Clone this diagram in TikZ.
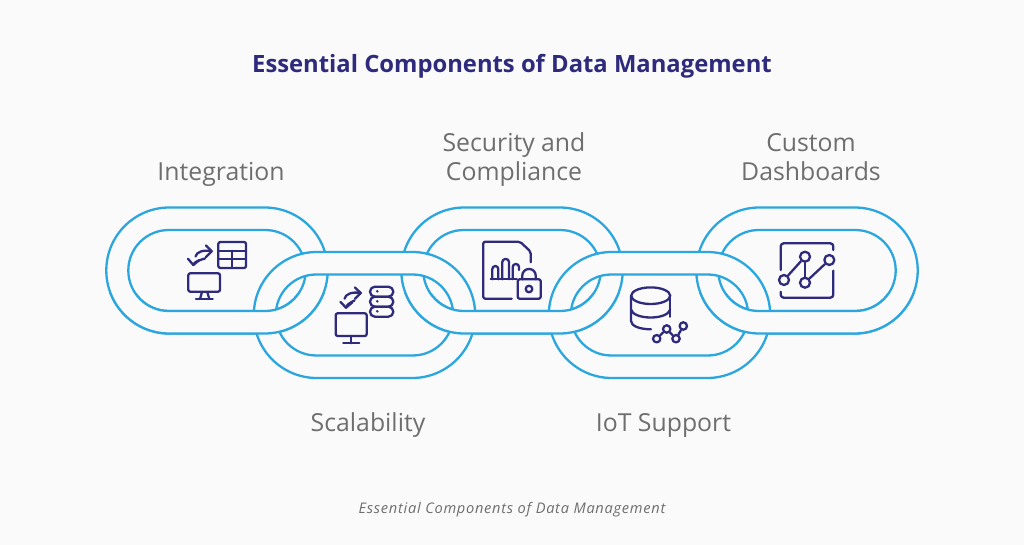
\documentclass[tikz,border=0pt]{standalone}
\usepackage{fontspec}
\setmainfont{Open Sans}
\usetikzlibrary{arrows.meta}

\definecolor{pagegray}{HTML}{FAFAFA}
\definecolor{linkblue}{HTML}{2BA6DE}
\definecolor{iconnavy}{HTML}{2E2A7C}
\definecolor{labelgray}{HTML}{6E6E6E}

\tikzset{
    chainlink/.pic={
        \path[draw=linkblue,line width=2.3pt,fill=pagegray,even odd rule]
            [rounded corners=63pt] (-110.7,-63) rectangle (110.7,63)
            [rounded corners=40.5pt] (-88.7,-40.5) rectangle (88.7,40.5);
    },
    label/.style={text=labelgray,align=center,font=\fontsize{24.8}{29}\selectfont},
    iconline/.style={draw=iconnavy,line width=2.3pt,line cap=round,line join=round},
    dot/.style={circle,iconline,inner sep=0pt,minimum size=#1},
}

\begin{document}
\begin{tikzpicture}[x=1pt,y=-1pt]
\fill[pagegray] (0,0) rectangle (1024,545);
\useasboundingbox (0,0) rectangle (1024,545);

% chain: odd links, even links, then the lower parts of the odd links again
\foreach \x in {217,512,807} \pic at (\x,270.5) {chainlink};
\foreach \x in {364.5,659.5} \pic at (\x,315) {chainlink};
\begin{scope}
    \clip (0,293) rectangle (1024,545);
    \foreach \x in {217,512,807} \pic at (\x,270.5) {chainlink};
\end{scope}

% texts
\node (title) at (512,66.5) [text=iconnavy,font=\fontsize{23.8}{29}\selectfont\bfseries] {Essential Components of Data Management};
\node[label] (integration) at (221,175) {\strut Integration};
\node[label] (scalability) at (368,426) {\strut Scalability};
\node[label] (security) at (514,160.5) {\strut Security and\\\strut Compliance};
\node[label] (iot) at (663.5,426) {\strut IoT Support};
\node[label] (custom) at (811,160.5) {\strut Custom\\\strut Dashboards};
\node (caption) at (512,510) [text=labelgray,font=\fontsize{14.6}{17}\selectfont\itshape\addfontfeature{LetterSpace=5}] {Essential Components of Data Management};

% integration icon
\begin{scope}[iconline]
    \draw[rounded corners=2pt] (218.3,242) rectangle (246,268);
    \draw (218.3,250.7) -- (246,250.7);
    \draw (218.3,259) -- (246,259);
    \draw (231.7,250.7) -- (231.7,268);
    \draw[rounded corners=2pt] (188.3,273.3) rectangle (220,291.7);
    \draw (202,292) -- (200,299);
    \draw (207.3,292) -- (209.3,299);
    \draw (196,299) -- (212.7,299);
    \draw (211.7,251.2) .. controls (203,249.5) and (196.5,252) .. (195.5,256.5);
    \draw (206,245.5) -- (211.7,251.2) -- (206,257);
    \draw (193.3,265) .. controls (194,262) and (198,260.5) .. (205,258.5);
    \draw (188,258.8) -- (193.3,265) -- (199.5,260);
\end{scope}

% scalability icon
\begin{scope}[iconline]
    \draw[rounded corners=2pt] (335.7,313.3) rectangle (366.7,336);
    \draw (351,336) -- (351,343.3);
    \draw (343.3,343.3) -- (359.3,343.3);
    \draw (360.7,293) .. controls (352,291.5) and (345.5,294) .. (344.5,298.7);
    \draw (355,287.5) -- (360.7,293) -- (355,298.7);
    \draw (346,307.7) .. controls (346.5,304.5) and (350.5,302.5) .. (354.5,300.5);
    \draw (340.5,302) -- (346,307.7) -- (352,302.7);
    \foreach \y in {286.7,296.7,306.7} {
        \draw[rounded corners=4.9pt] (370,\y) rectangle (393.3,\y+10);
        \fill[iconnavy,draw=none] (377.3,\y+4.6) circle (1.4pt);
    }
\end{scope}

% security icon
\begin{scope}[iconline]
    \draw[rounded corners=2pt] (511.7,298.7) -- (483.3,298.7) -- (483.3,241.7) -- (520,241.7) -- (530.7,251.7) -- (530.7,262.3);
    \draw (490.7,279.3) -- (516.7,279.3);
    \draw[rounded corners=3pt] (492.3,279.3) -- (492.3,266) -- (498.3,266) -- (498.3,279.3);
    \draw[rounded corners=3pt] (502.3,279.3) -- (502.3,259) -- (509,259) -- (509,279.3);
    \draw[rounded corners=3pt] (512.7,279.3) -- (512.7,264) -- (519,264) -- (519,270);
    \draw[rounded corners=2pt] (517.7,279.3) rectangle (540.7,298.7);
    \draw[rounded corners=6.5pt] (522.3,279.3) -- (522.3,269) -- (535.7,269) -- (535.7,279.3);
    \node[dot=6.6pt] (keyhole) at (529,289) {};
\end{scope}

% iot icon
\begin{scope}[iconline]
    \draw (650.7,295.7) ellipse [x radius=19.5pt,y radius=8.3pt];
    \draw (631,295.7) -- (631,321) .. controls (631,326) and (640,329.3) .. (651,329.3);
    \draw (670.2,295.7) -- (670.2,316.7);
    \draw (631,309.5) .. controls (632,314.5) and (641,317.5) .. (650.7,317.5) .. controls (660.5,317.5) and (669,314.5) .. (670.2,309.5);
    \node[dot=7.4pt] (p1) at (656.7,338.7) {};
    \node[dot=7.4pt] (p2) at (666.7,329) {};
    \node[dot=7.4pt] (p3) at (676,338.7) {};
    \node[dot=7.4pt] (p4) at (683.3,326) {};
    \draw (p1) -- (p2);
    \draw (p2) -- (p3);
    \draw (p3) -- (p4);
\end{scope}

% dashboards icon
\begin{scope}[iconline]
    \draw[rounded corners=3pt] (780.7,270) -- (780.7,243.3) -- (833.3,243.3) -- (833.3,250);
    \draw[rounded corners=3pt] (833.3,270.7) -- (833.3,297.7) -- (780.7,297.7) -- (780.7,291.7);
    \node[dot=10pt] (g1) at (784,280) {};
    \node[dot=10pt] (g2) at (805,256.7) {};
    \node[dot=10pt] (g3) at (805,282.7) {};
    \node[dot=10pt] (g4) at (829.3,260) {};
    \draw (g1) -- (g2);
    \draw (g2) -- (g3);
    \draw (g3) -- (g4);
\end{scope}
\end{tikzpicture}
\end{document}
